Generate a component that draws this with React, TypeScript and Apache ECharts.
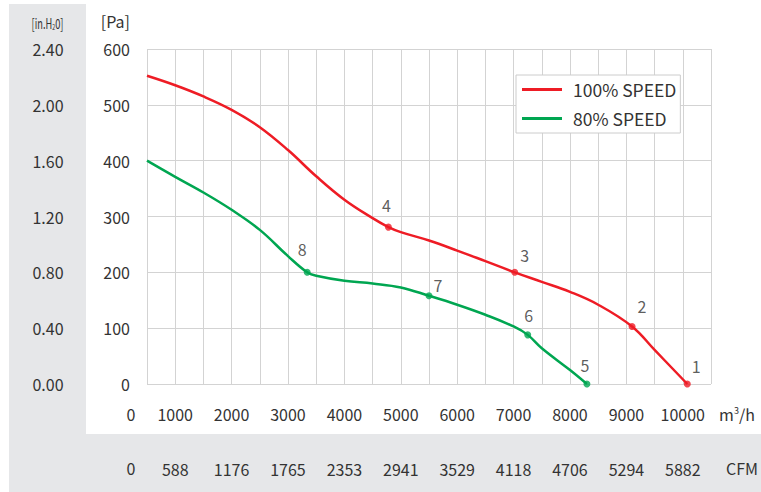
import React, { useEffect, useRef } from 'react';
import * as echarts from 'echarts';

// ---- data ----
const seriesNames = ['100% SPEED', '80% SPEED'];

const flowRed = [500, 1000, 1500, 2000, 2500, 3000, 3500, 4000, 4500, 4780, 5000, 5500, 6000, 6500, 7020, 7500, 8000, 8500, 9100, 9500, 10080];
const paRed = [552, 535, 515, 491, 460, 419, 372, 330, 297, 281, 272, 257, 239, 220, 200, 183, 165, 142, 103, 61, 0];

const flowGreen = [500, 1000, 1500, 2000, 2500, 3000, 3340, 3500, 4000, 4500, 5000, 5500, 6000, 6500, 7000, 7250, 7500, 8000, 8300];
const paGreen = [400, 371, 343, 312, 276, 229, 200, 194, 185, 180, 173, 158, 142, 124, 103, 88, 64, 25, 0];

const redPointIds = ['1', '2', '3', '4'];
const redPointFlow = [10080, 9100, 7020, 4780];
const redPointPa = [0, 103, 200, 281];

const greenPointIds = ['5', '6', '7', '8'];
const greenPointFlow = [8300, 7250, 5500, 3340];
const greenPointPa = [0, 88, 158, 200];

const cfmTicks = ['588', '1176', '1765', '2353', '2941', '3529', '4118', '4706', '5294', '5882'];
const inH2OTicks = ['0.00', '0.40', '0.80', '1.20', '1.60', '2.00', '2.40'];

// ---- style ----
const FONT = '"Noto Sans CJK SC", "Noto Sans", sans-serif';
const TXT = '#333333';
const GRID = '#d3d3d3';
const RED = '#ee1c25';
const GREEN = '#00a651';
const PANEL = '#e6e7e9';
const FS = 16;

const labelOffsets: Record<string, number[]> = {
  '1': [9, -18], '2': [10, -20], '3': [10, -17], '4': [-2, -22],
  '5': [-2, -19], '6': [1, -20], '7': [9, -11], '8': [-5, -23],
};

function pointData(ids: string[], xs: number[], ys: number[]) {
  return ids.map((id, i) => ({
    value: [xs[i], ys[i]],
    name: id,
    label: { offset: labelOffsets[id] },
  }));
}

export default function App() {
  const ref = useRef<HTMLDivElement>(null);
  useEffect(() => {
    if (!ref.current) return;
    const chart = echarts.init(ref.current, null, { renderer: 'svg' });
    const pointLabel = {
      show: true,
      position: 'inside',
      formatter: (p: any) => p.name,
      color: TXT,
      fontSize: FS,
      fontFamily: FONT,
    };
    chart.setOption({
      animation: false,
      backgroundColor: '#ffffff',
      textStyle: { fontFamily: FONT },
      grid: { left: 147, top: 49, width: 564, height: 335, containLabel: false },
      legend: {
        left: 516,
        top: 75,
        orient: 'vertical',
        data: seriesNames,
        icon: 'rect',
        backgroundColor: '#ffffff',
        borderColor: '#cccccc',
        borderWidth: 1,
        borderRadius: 0,
        padding: [4, 4, 4, 6],
        itemWidth: 40,
        itemHeight: 3,
        itemGap: 8,
        textStyle: { color: TXT, fontSize: 17.5, fontFamily: FONT, padding: [0, 0, 0, 6], lineHeight: 21 },
      },
      xAxis: [
        {
          type: 'value', min: 500, max: 10500, interval: 500,
          axisLine: { show: false }, axisTick: { show: false },
          splitLine: { show: true, lineStyle: { color: GRID, width: 1 } },
          axisLabel: {
            color: TXT, fontSize: FS, fontFamily: FONT, margin: 22,
            formatter: (v: number) => (v % 1000 === 0 ? String(v) : ''),
          },
        },
        {
          type: 'value', min: 500, max: 10500, interval: 500, position: 'bottom', offset: 55,
          axisLine: { show: false }, axisTick: { show: false }, splitLine: { show: false },
          axisLabel: {
            color: TXT, fontSize: FS, fontFamily: FONT, margin: 22,
            formatter: (v: number) => (v % 1000 === 0 ? cfmTicks[v / 1000 - 1] : ''),
          },
        },
      ],
      yAxis: [
        {
          type: 'value', min: 0, max: 600, interval: 100,
          axisLine: { show: false }, axisTick: { show: false },
          splitLine: { show: true, lineStyle: { color: GRID, width: 1 } },
          axisLabel: { color: TXT, fontSize: FS, fontFamily: FONT, margin: 17 },
        },
        {
          type: 'value', min: 0, max: 600, interval: 100, position: 'left', offset: 91,
          axisLine: { show: false }, axisTick: { show: false }, splitLine: { show: false },
          axisLabel: {
            color: TXT, fontSize: FS, fontFamily: FONT, margin: 8, align: 'center',
            formatter: (v: number) => inH2OTicks[Math.round(v / 100)],
          },
        },
      ],
      graphic: [
        { type: 'rect', z: -10, silent: true, shape: { x: 9, y: 4, width: 77, height: 488 }, style: { fill: PANEL } },
        { type: 'rect', z: -10, silent: true, shape: { x: 9, y: 434, width: 752, height: 58 }, style: { fill: PANEL } },
        {
          type: 'text', x: 130, y: 21,
          style: { text: '[Pa]', fill: TXT, fontSize: FS, fontFamily: FONT, align: 'right', verticalAlign: 'middle' },
        },
        {
          type: 'text', x: 47.5, y: 22.5, scaleX: 0.66, scaleY: 1,
          style: {
            text: '[in.H{sub|2}0]', fill: TXT, fontSize: 14, fontFamily: FONT, align: 'center', verticalAlign: 'middle',
            rich: { sub: { fontSize: 8, fill: TXT, fontFamily: FONT, padding: [7, 0, 0, 0] } },
          },
        },
        {
          type: 'text', x: 131, y: 414,
          style: { text: '0', fill: TXT, fontSize: FS, fontFamily: FONT, align: 'center', verticalAlign: 'middle' },
        },
        {
          type: 'text', x: 131, y: 468,
          style: { text: '0', fill: TXT, fontSize: FS, fontFamily: FONT, align: 'center', verticalAlign: 'middle' },
        },
        {
          type: 'text', x: 737, y: 414,
          style: {
            text: 'm{sup|3}/h', fill: TXT, fontSize: FS, fontFamily: FONT, align: 'center', verticalAlign: 'middle',
            rich: { sup: { fontSize: 9, fill: TXT, fontFamily: FONT, padding: [0, 0, 8, 0] } },
          },
        },
        {
          type: 'text', x: 742, y: 468,
          style: { text: 'CFM', fill: TXT, fontSize: FS, fontFamily: FONT, align: 'center', verticalAlign: 'middle' },
        },
      ],
      series: [
        {
          name: seriesNames[0], type: 'line', smooth: 0.4, symbol: 'none',
          lineStyle: { color: RED, width: 2.5 }, itemStyle: { color: RED },
          data: flowRed.map((x, i) => [x, paRed[i]]), z: 3,
        },
        {
          name: seriesNames[1], type: 'line', smooth: 0.4, symbol: 'none',
          lineStyle: { color: GREEN, width: 2.5 }, itemStyle: { color: GREEN },
          data: flowGreen.map((x, i) => [x, paGreen[i]]), z: 3,
        },
        {
          type: 'scatter', symbolSize: 7, itemStyle: { color: RED }, z: 4,
          label: pointLabel, data: pointData(redPointIds, redPointFlow, redPointPa),
        },
        {
          type: 'scatter', symbolSize: 7, itemStyle: { color: GREEN }, z: 4,
          label: pointLabel, data: pointData(greenPointIds, greenPointFlow, greenPointPa),
        },
      ],
    });
    return () => chart.dispose();
  }, []);
  return (
    <div
      ref={ref}
      style={{ position: 'absolute', left: 0, top: 0, width: 761, height: 492 }}
    />
  );
}
